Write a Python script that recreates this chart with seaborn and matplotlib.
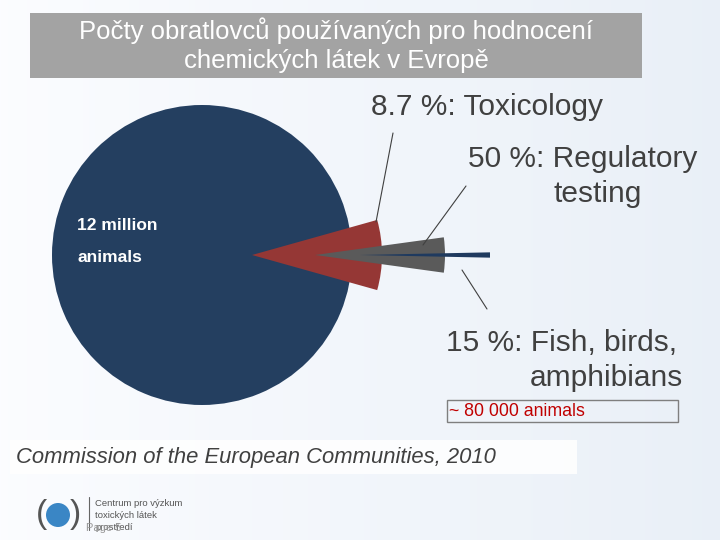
import numpy as np
import matplotlib
matplotlib.use("Agg")
import matplotlib.pyplot as plt
import seaborn as sns
from matplotlib.patches import Rectangle, Circle

# ---- data ----
title_lines = ["Počty obratlovců používaných pro hodnocení", "chemických látek v Evropě"]
categories = ["Toxicology", "Regulatory testing", "Fish, birds, amphibians"]
shares_pct = [8.7, 50, 15]          # each share is a percentage of the previous level
label_lines = [["8.7 %: Toxicology"],
               ["50 %: Regulatory", "testing"],
               ["15 %: Fish, birds,", "amphibians"]]
total_label = ["12 million", "animals"]
note_label = "~ 80 000 animals"
source_label = "Commission of the European Communities, 2010"
logo_lines = ["Centrum pro výzkum", "toxických látek", "prostředí"]

# ---- style ----
sns.set_theme(style="white")
plt.rcParams["font.family"] = ["Liberation Sans", "DejaVu Sans"]

navy = "#243F60"
level_colors = ["#953735", "#5A5A5A", "#1F3A5F"]
text_col = "#404040"

fig = plt.figure(figsize=(7.2, 5.4), dpi=100)
ax = fig.add_axes([0, 0, 1, 1])

# background gradient
grad = np.linspace(0, 1, 256)[None, :]
bg = np.zeros((1, 256, 3))
c0 = np.array([0.985, 0.99, 1.0])
c1 = np.array([0.915, 0.94, 0.97])
bg[0] = c0 + (c1 - c0) * grad.T
ax.imshow(bg, extent=(0, 720, 540, 0), aspect="auto", zorder=0)

# ---- pies ----
cx, cy = 202, 255
R_main = 150
R_sub = 130
offsets = [50, 113, 158]

ax.pie([100], colors=[navy], radius=R_main, center=(cx, cy),
       wedgeprops=dict(linewidth=0, zorder=2))

frac = 100.0
for i, (s, col) in enumerate(zip(shares_pct, level_colors)):
    frac = frac * s / 100.0
    start = -frac / 100.0 * 180.0
    wedges, _ = ax.pie([frac, 100 - frac], colors=[col, "none"], radius=R_sub,
                       center=(cx + offsets[i], cy), startangle=start,
                       wedgeprops=dict(linewidth=0))
    for w in wedges:
        w.set_zorder(3 + i)

# ---- title box ----
ax.add_patch(Rectangle((30, 13), 612, 65, facecolor="#A3A3A3", edgecolor="none", zorder=5))
ax.text(336, 31, title_lines[0], color="white", fontsize=18.5, ha="center", va="center", zorder=6)
ax.text(336, 61, title_lines[1], color="white", fontsize=18.5, ha="center", va="center", zorder=6)

# ---- labels ----
ax.text(371, 107, label_lines[0][0], color=text_col, fontsize=21.5, ha="left", va="center", zorder=6)
ax.text(468, 159, label_lines[1][0], color=text_col, fontsize=21.5, ha="left", va="center", zorder=6)
ax.text(553, 194, label_lines[1][1], color=text_col, fontsize=21.5, ha="left", va="center", zorder=6)
ax.text(446, 343, label_lines[2][0], color=text_col, fontsize=21.5, ha="left", va="center", zorder=6)
ax.text(530, 378, label_lines[2][1], color=text_col, fontsize=21.5, ha="left", va="center", zorder=6)

# leader lines
for (x0, y0, x1, y1) in [(376, 222, 393, 133), (423, 245, 466, 186), (462, 270, 487, 309)]:
    ax.plot([x0, x1], [y0, y1], color=text_col, lw=0.8, zorder=7)

# total label
ax.text(77, 225, total_label[0], color="white", fontsize=12.5, fontweight="bold",
        ha="left", va="center", zorder=6)
ax.text(77, 258, total_label[1], color="white", fontsize=12.5, fontweight="bold",
        ha="left", va="center", zorder=6)

# note box
ax.add_patch(Rectangle((447, 400), 231, 22, facecolor="none", edgecolor="#7F7F7F", lw=1, zorder=6))
ax.text(449, 411, note_label, color="#C00000", fontsize=12.8, ha="left", va="center", zorder=7)

# source
ax.add_patch(Rectangle((10, 440), 567, 34, facecolor="white", edgecolor="none", alpha=0.85, zorder=5))
ax.text(16, 457, source_label, color=text_col, fontsize=15.8, style="italic",
        ha="left", va="center", zorder=6)

# logo
ax.add_patch(Circle((58, 515), 12, facecolor="#3A86C5", edgecolor="none", zorder=6))
ax.text(41, 515, "(", color="#555555", fontsize=24, ha="center", va="center", zorder=6)
ax.text(75, 515, ")", color="#555555", fontsize=24, ha="center", va="center", zorder=6)
ax.plot([89, 89], [497, 530], color="#666666", lw=0.8, zorder=6)
for k, t in enumerate(logo_lines):
    ax.text(95, 503 + 12 * k, t, color="#555555", fontsize=6.8, ha="left", va="center", zorder=6)
ax.text(86, 528, "Page 5", color="#999999", fontsize=8, ha="left", va="center", zorder=7)

ax.set_xlim(0, 720)
ax.set_ylim(540, 0)
ax.set_aspect("auto")
ax.axis("off")

fig.savefig("out.png", dpi=100)
